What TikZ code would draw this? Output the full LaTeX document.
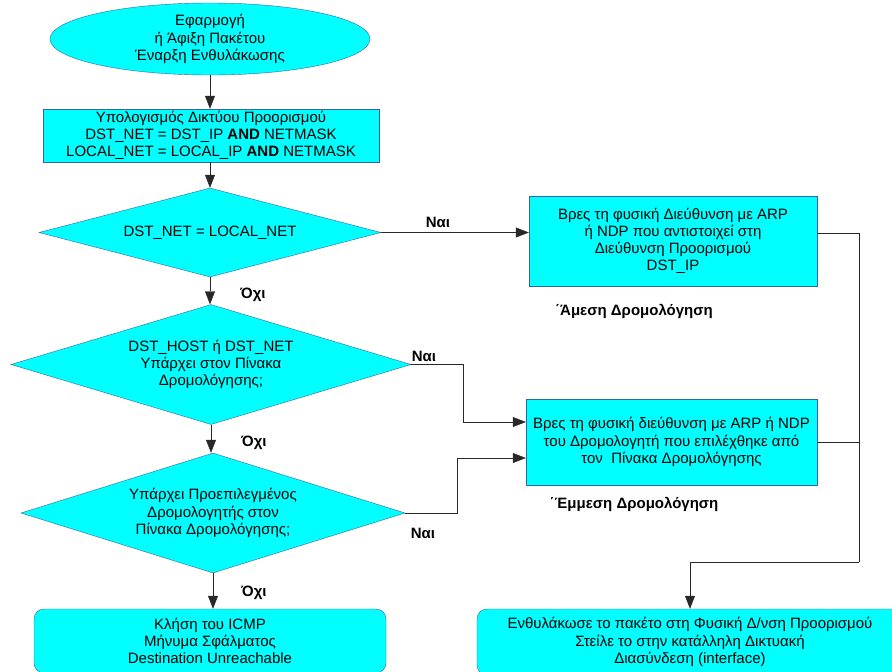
\documentclass[tikz,border=0pt]{standalone}
\usepackage{fontspec}
\setmainfont{Liberation Sans}
\usetikzlibrary{shapes.geometric,arrows.meta}
\definecolor{boxcyan}{RGB}{0,255,255}
\definecolor{edgeblue}{RGB}{52,101,164}
\definecolor{wire}{RGB}{40,40,40}

\begin{document}
\begin{tikzpicture}[
		x=1pt, y=-1pt,
		font=\fontsize{15}{17.2}\selectfont,
		every node/.style={inner sep=0pt},
		shapebase/.style={draw=edgeblue, fill=boxcyan, align=center},
		startnode/.style={shapebase, ellipse},
		process/.style={shapebase, rectangle},
		decision/.style={shapebase, diamond},
		terminal/.style={shapebase, rectangle, rounded corners=10pt},
		flow/.style={draw=wire, -{Triangle[length=13pt,width=10pt]}},
		wireline/.style={draw=wire},
		answer/.style={font=\fontsize{15}{17.2}\selectfont\bfseries}
	]
	\useasboundingbox (0,0) rectangle (892,672);

	\node[startnode, minimum width=320pt, minimum height=72pt] (start) at (210,39)
		{Εφαρμογή\\ή Άφιξη Πακέτου\\Έναρξη Ενθυλάκωσης};
	\node[process, minimum width=336pt, minimum height=53pt] (netcalc) at (211,135.5)
		{Υπολογισμός Δικτύου Προορισμού\\DST\_NET = DST\_IP \textbf{AND} NETMASK\\LOCAL\_NET = LOCAL\_IP \textbf{AND} NETMASK};
	\node[decision, aspect=3.84, minimum width=342pt, minimum height=89pt] (samenet) at (210,232.5)
		{DST\_NET = LOCAL\_NET};
	\node[decision, aspect=3.33, minimum width=400pt, minimum height=120pt] (intable) at (211,364.5)
		{DST\_HOST ή DST\_NET\\Υπάρχει στον Πίνακα\\Δρομολόγησης;};
	\node[decision, aspect=3.2, minimum width=384pt, minimum height=120pt] (defroute) at (213,513)
		{Υπάρχει Προεπιλεγμένος\\Δρομολογητής στον\\Πίνακα Δρομολόγησης;};
	\node[terminal, minimum width=352pt, minimum height=64pt] (icmp) at (210,641)
		{Κλήση του ICMP\\Μήνυμα Σφάλματος\\Destination Unreachable};

	\node[process, minimum width=288pt, minimum height=90pt] (direct) at (673,241)
		{Βρες τη φυσική Διεύθυνση με ARP\\ή NDP που αντιστοιχεί στη\\Διεύθυνση Προορισμού\\DST\_IP};
	\node[process, minimum width=291pt, minimum height=86pt] (indirect) at (671.5,442)
		{Βρες τη φυσική διεύθυνση με ARP ή NDP\\ του Δρομολογητή που επιλέχθηκε από\\τον \ Πίνακα Δρομολόγησης};
	\node[terminal, minimum width=426pt, minimum height=66pt] (encap) at (690,642)
		{Ενθυλάκωσε το πακέτο στη Φυσική Δ/νση Προορισμού\\Στείλε το στην κατάλληλη Δικτυακή\\Διασύνδεση (interface)};

	\node[answer] (directlabel) at (634,311) {΄Άμεση Δρομολόγηση};
	\node[answer] (indirectlabel) at (634,504) {΄Έμμεση Δρομολόγηση};

	\draw[flow] (start) -- (start |- netcalc.north);
	\draw[flow] (start |- netcalc.south) -- (samenet.north);
	\draw[flow] (samenet.south) -- (samenet.south |- intable.north);
	\draw[flow] (intable.south) -- (intable.south |- defroute.north);
	\draw[flow] (defroute.south) -- (defroute.south |- icmp.north);
	\node[answer] (no1) at (253,295) {Όχι};
	\node[answer] (no2) at (254,443) {Όχι};
	\node[answer] (no3) at (254,593) {Όχι};

	\draw[flow] (samenet.east) -- (samenet.east -| direct.west);
	\node[answer] (yes1) at (438,222) {Ναι};
	\draw[flow] (intable.east) -- ++(52,0) |- ([yshift=20pt]indirect.west);
	\node[answer] (yes2) at (424,356) {Ναι};
	\draw[flow] (defroute.east) -- ++(52,0) |- ([yshift=-16pt]indirect.west);
	\node[answer] (yes3) at (423,533) {Ναι};

	\coordinate (bus) at (859,562);
	\draw[wireline] ([yshift=8pt]direct.east) -| (bus);
	\draw[wireline] (indirect.east) -| (bus);
	\draw[flow] (bus) -| (encap.north);
\end{tikzpicture}
\end{document}
